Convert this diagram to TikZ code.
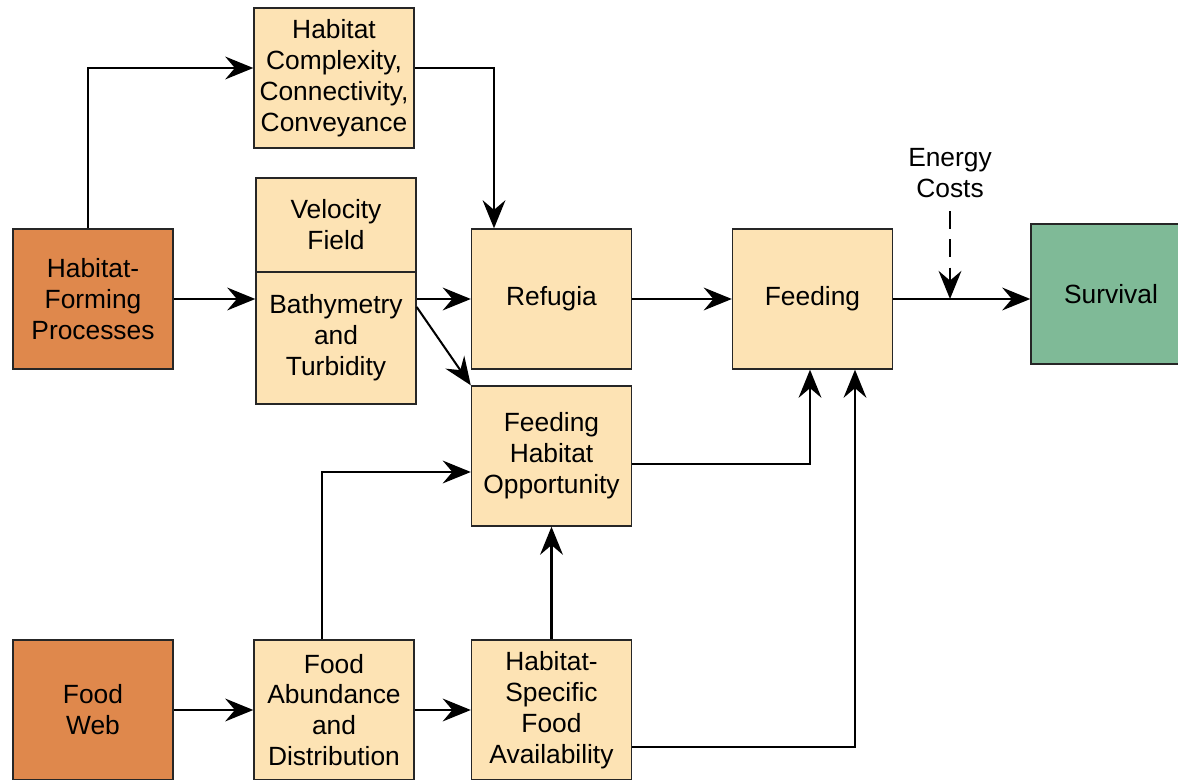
\documentclass[tikz,border=0pt]{standalone}
\usepackage{fontspec}
\setmainfont{Liberation Sans}
\usetikzlibrary{arrows.meta,positioning,calc}

\definecolor{procorange}{RGB}{223,136,76}
\definecolor{stagetan}{RGB}{253,227,180}
\definecolor{survgreen}{RGB}{127,186,151}

\begin{document}
\begin{tikzpicture}[
			x=0.02cm,y=-0.02cm,
			box/.style={
				draw=black!85,
				line width=0.8pt,
				minimum width=3.2cm,
				minimum height=2.8cm,
				inner sep=0pt,
				align=center,
				fill=stagetan,
				font=\fontsize{15}{17.6}\selectfont
			},
			arrow/.style={-{Stealth[length=16pt,width=13pt,inset=5.5pt]},line width=1.15pt},
			]
			\useasboundingbox (0,0) rectangle (1178,780);
			\clip (0,0) rectangle (1178,780);
			
			\node[box,fill=procorange] (forming) at (93,299) {Habitat-\\Forming\\Processes};
			\node[box,fill=procorange] (foodweb) at (93,710) {Food\\Web};
			
			\node[box] (complexity) at (334,78) {Habitat\\Complexity,\\Connectivity,\\Conveyance};
			\node[box,minimum height=1.88cm] (velocity) at (336,225) {Velocity\\Field};
			\node[box,minimum height=2.64cm] (bathy) at (336,338) {Bathymetry\\and\\Turbidity};
			
			\node[box] (refugia) at (551.5,299) {Refugia};
			\node[box] (fhabitat) at (551.5,456) {Feeding\\Habitat\\Opportunity};
			\node[box] (feeding) at (812.5,299) {Feeding};
			\node[box,fill=survgreen] (survival) at (1111,294) {Survival};
			
			\node[box] (abundance) at (334,710) {Food\\Abundance\\and\\Distribution};
			\node[box] (specific) at (551.5,710) {Habitat-\\Specific\\Food\\Availability};
			
			\node[align=center,font=\fontsize{15}{17.6}\selectfont] (energy) at (950,173) {Energy\\Costs};
			
			% upper chain
			\draw[arrow] ([xshift=-0.1cm]forming.north) |- ([yshift=0.2cm]complexity.west);
			\draw[arrow] ([yshift=0.2cm]complexity.east) -| ([xshift=-1.15cm]refugia.north);
			\draw[arrow] (forming.east) -- (forming.east -| bathy.west);
			\draw[arrow] (refugia.west -| bathy.east) -- (refugia.west);
			\draw[arrow] ([yshift=-0.16cm]refugia.west -| bathy.east) -- (fhabitat.north west);
			\draw[arrow] (refugia) -- (feeding);
			\draw[arrow] (feeding.east) -- (feeding.east -| survival.west);
			\draw[arrow,dash pattern=on 10pt off 6pt] ([yshift=-0.15cm]energy.south) -- (energy.south |- feeding.east);
			
			% food chain
			\draw[arrow] (foodweb) -- (abundance);
			\draw[arrow] (abundance) -- (specific);
			\draw[arrow] (specific) -- (fhabitat);
			\draw[arrow] ([xshift=-0.24cm]abundance.north) |- ([yshift=-0.32cm]fhabitat.west);
			\draw[arrow] ([yshift=-0.16cm]fhabitat.east) -| ([xshift=-0.05cm]feeding.south);
			\draw[arrow] ([yshift=-0.74cm]specific.east) -| ([xshift=0.85cm]feeding.south);
			
		\end{tikzpicture}
\end{document}
